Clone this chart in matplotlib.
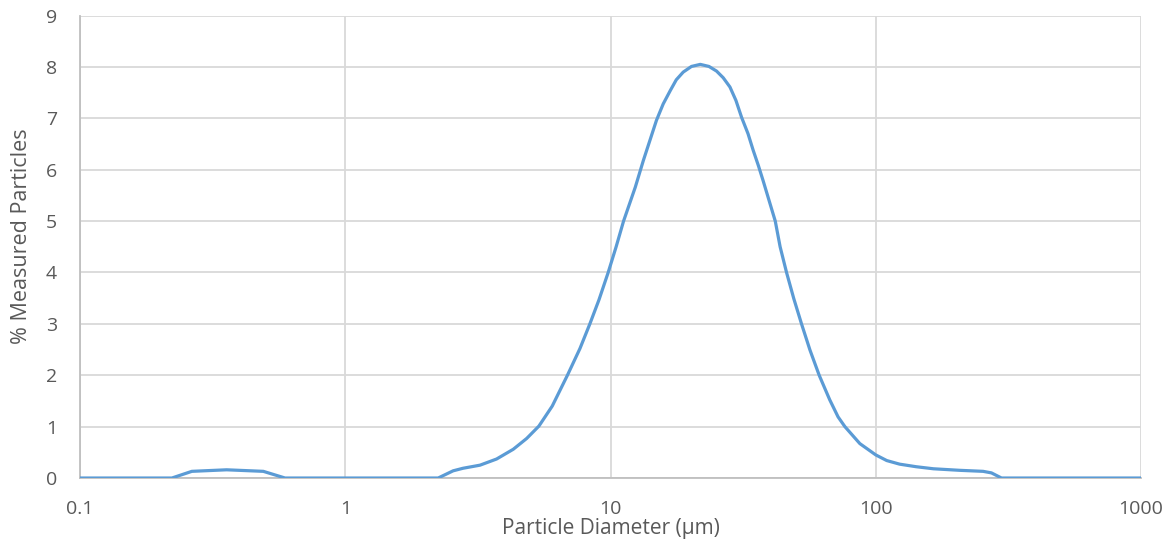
import matplotlib
matplotlib.use('Agg')
import matplotlib.pyplot as plt
from matplotlib.ticker import FixedLocator, FixedFormatter, NullLocator

# particle size distribution
diameter_um = [0.1, 0.222, 0.264, 0.357, 0.491, 0.593, 2.24, 2.55, 2.78, 3.22,
               3.72, 4.30, 4.83, 5.37, 6.03, 6.88, 7.67, 8.36, 9.05, 9.80,
               10.5, 11.2, 12.4, 13.3, 14.9, 15.8, 16.8, 17.7, 18.8, 20.2,
               21.8, 23.5, 25.1, 26.6, 28.2, 29.7, 31.2, 33.0, 34.5, 36.1,
               37.6, 41.8, 43.6, 46.1, 49.1, 52.5, 56.5, 61.2, 67.1, 72.1,
               76.5, 87.1, 100, 110, 123, 142, 165, 207, 254, 273,
               298, 1000]
percent = [0, 0, 0.13, 0.16, 0.13, 0, 0, 0.14, 0.19, 0.25,
           0.37, 0.56, 0.77, 1.01, 1.40, 2.0, 2.52, 3.0, 3.47, 4.0,
           4.50, 5.0, 5.66, 6.18, 6.96, 7.28, 7.54, 7.75, 7.90, 8.01,
           8.05, 8.01, 7.92, 7.79, 7.61, 7.35, 7.02, 6.70, 6.38, 6.08,
           5.79, 5.0, 4.50, 4.0, 3.49, 3.0, 2.49, 2.0, 1.52, 1.19,
           1.0, 0.67, 0.45, 0.34, 0.27, 0.22, 0.18, 0.15, 0.13, 0.10,
           0, 0]

x_ticks = [0.1, 1, 10, 100, 1000]
x_tick_labels = ['0.1', '1', '10', '100', '1000']
y_ticks = list(range(0, 10))

TEXT = '#595959'
plt.rcParams['font.family'] = ['Open Sans', 'DejaVu Sans']

fig = plt.figure(figsize=(11.7, 5.46), dpi=100)
ax = fig.add_axes([0.0684, 0.1245, 0.9068, 0.847])

ax.plot(diameter_um, percent, color='#5B9BD5', linewidth=2.3,
        solid_joinstyle='round', solid_capstyle='round', zorder=3)

ax.set_xscale('log')
ax.set_xlim(0.1, 1000)
ax.set_ylim(0, 9)
ax.xaxis.set_major_locator(FixedLocator(x_ticks))
ax.xaxis.set_major_formatter(FixedFormatter(x_tick_labels))
ax.xaxis.set_minor_locator(NullLocator())
ax.set_yticks(y_ticks)

ax.grid(True, color='#D9D9D9', linewidth=1.3, zorder=0)
ax.set_axisbelow(True)
for s in ['top', 'right']:
    ax.spines[s].set_visible(False)
for s in ['left', 'bottom']:
    ax.spines[s].set_color('#BFBFBF')
    ax.spines[s].set_linewidth(1.3)

ax.tick_params(axis='both', length=0, labelsize=14, labelcolor=TEXT)
ax.tick_params(axis='x', pad=15.5)
ax.tick_params(axis='y', pad=16.5)

ax.set_xlabel('Particle Diameter (µm)', fontsize=15, color=TEXT, va='baseline')
ax.xaxis.set_label_coords(0.5005, -0.121)
ax.set_ylabel('% Measured Particles', fontsize=15.5, color=TEXT, va='center')
ax.yaxis.set_label_coords(-0.0547, 0.523)

fig.savefig('out.png', dpi=100)
